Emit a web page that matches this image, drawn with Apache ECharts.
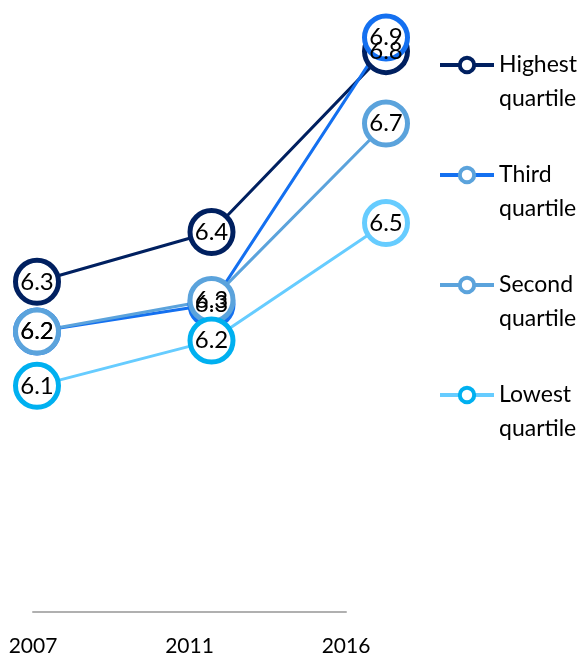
<!DOCTYPE html>
<html>
<head>
<meta charset="utf-8">
<script src="https://cdn.jsdelivr.net/npm/echarts@6/dist/echarts.min.js"></script>
<style>
  html, body { margin: 0; padding: 0; background: #fff; }
  #chart-container { width: 584px; height: 659px; }
</style>
</head>
<body>
<div id="chart-container"></div>
<script>
const years = ['2007', '2011', '2016'];
const seriesNames = ['Highest quartile', 'Third quartile', 'Second quartile', 'Lowest quartile'];
const highestQ = [6.33, 6.44, 6.84];
const thirdQ = [6.22, 6.28, 6.87];
const secondQ = [6.22, 6.29, 6.68];
const lowestQ = [6.10, 6.20, 6.46];

const navy = '#002060';
const brightBlue = '#1470f0';
const midBlue = '#5ba3dc';
const lightBlue = '#66ccff';
const cyan = '#00b0f0';

const font = 'Lato';

const makeSeries = (name, values, lineColor, markColor) => ({
    name: name,
    type: 'line',
    xAxisIndex: 0,
    yAxisIndex: 0,
    data: values.slice(),
    symbol: 'circle',
    symbolSize: 43,
    showSymbol: true,
    lineStyle: { color: lineColor, width: 3 },
    itemStyle: { color: '#ffffff', borderColor: markColor, borderWidth: 5 },
    label: {
        show: true,
        position: 'inside',
        fontFamily: font,
        fontSize: 24,
        color: '#000',
        formatter: p => Number(p.value).toFixed(1)
    },
    emphasis: { disabled: true }
});

const chart = echarts.init(document.getElementById('chart-container'));

const lowestSeries = makeSeries(seriesNames[3], lowestQ, lightBlue, cyan);
// the 2016 marker of the lowest quartile takes the line colour
lowestSeries.data = lowestQ.map((v, i) => i === 2 ? { value: v, itemStyle: { borderColor: lightBlue } } : v);

const options = {
    animation: false,
    backgroundColor: '#ffffff',
    grid: [
        { left: 37, right: 198, top: 24, bottom: 47 },
        { left: 33, right: 238, top: 24, bottom: 47 }
    ],
    xAxis: [
        { type: 'category', gridIndex: 0, data: years, boundaryGap: false, show: false },
        {
            type: 'category', gridIndex: 1, data: years, boundaryGap: false,
            axisLine: { lineStyle: { color: '#b0b0b0', width: 2 } },
            axisTick: { show: false },
            axisLabel: { fontFamily: font, fontSize: 21, color: '#000', margin: 24 }
        }
    ],
    yAxis: [
        { type: 'value', gridIndex: 0, min: 5.6, max: 6.9, show: false },
        { type: 'value', gridIndex: 1, min: 0, max: 1, show: false }
    ],
    legend: {
        orient: 'vertical',
        left: 438,
        top: 14,
        padding: 0,
        itemGap: 8,
        itemWidth: 54,
        itemHeight: 18,
        selectedMode: false,
        itemStyle: { borderWidth: 4 },
        lineStyle: { width: 4 },
        textStyle: {
            fontFamily: font,
            fontSize: 23,
            color: '#000',
            lineHeight: 34
        },
        // blank first line keeps the first word level with the icon
        formatter: name => ' \n' + name.replace(' ', '\n'),
        data: [
            { name: seriesNames[0] },
            { name: seriesNames[1], itemStyle: { borderColor: midBlue } },
            { name: seriesNames[2] },
            { name: seriesNames[3] }
        ]
    },
    series: [
        makeSeries(seriesNames[0], highestQ, navy, navy),
        makeSeries(seriesNames[1], thirdQ, brightBlue, brightBlue),
        makeSeries(seriesNames[2], secondQ, midBlue, midBlue),
        lowestSeries
    ]
};

chart.setOption(options);
</script>
</body>
</html>
